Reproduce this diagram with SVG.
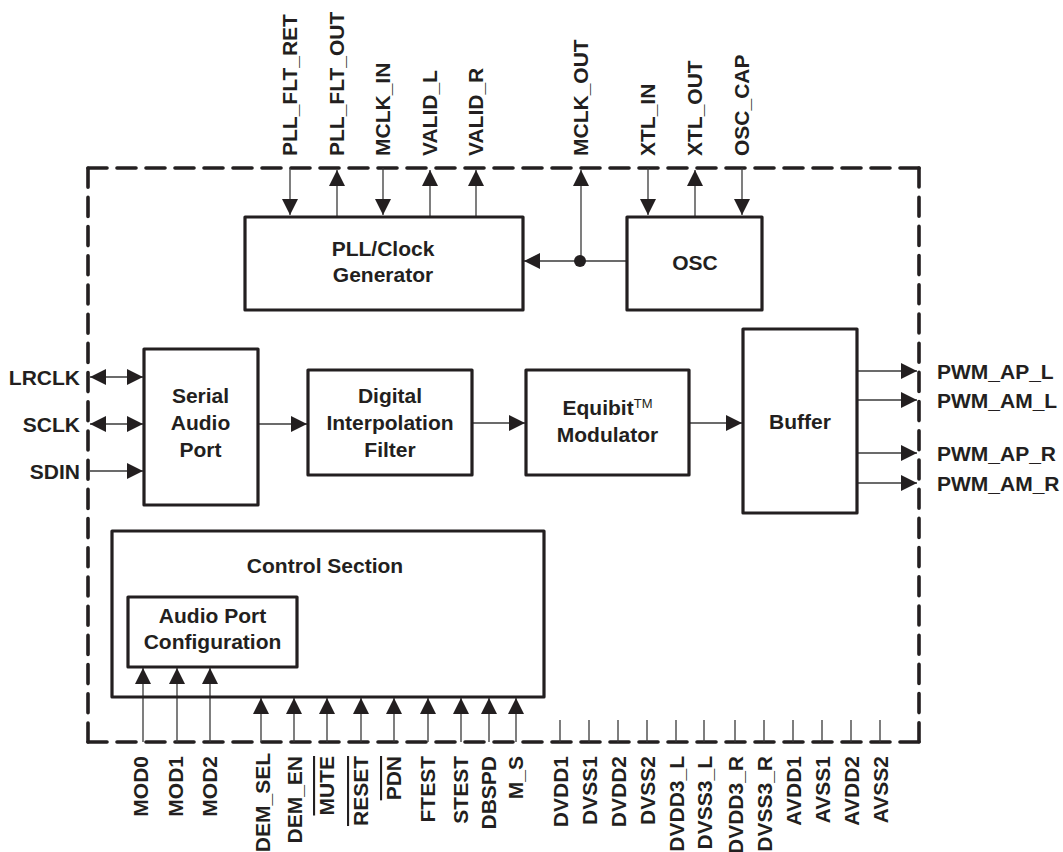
<svg xmlns="http://www.w3.org/2000/svg" width="1063" height="852" viewBox="0 0 1063 852">
<style>
text{font-family:"Liberation Sans",Arial,sans-serif;font-weight:bold;font-size:21px;fill:#231f20}
.box{fill:none;stroke:#231f20;stroke-width:3.2;stroke-linejoin:round}
.bd{fill:none;stroke:#231f20;stroke-width:3.6;stroke-linecap:round;stroke-dasharray:19 10}
.bdv{fill:none;stroke:#231f20;stroke-width:3.6;stroke-linecap:round;stroke-dasharray:19 10.2}
.w{fill:none;stroke:#3a3a3a;stroke-width:1.3}
.a{marker-end:url(#ah)}
.bi{marker-end:url(#ah);marker-start:url(#ahs)}
.m{text-anchor:middle}
.e{text-anchor:end}
.ol{text-decoration:overline}
</style>
<defs>
<marker id="ah" viewBox="0 0 16 16" refX="16" refY="8" markerWidth="16" markerHeight="16" markerUnits="userSpaceOnUse" orient="auto"><path d="M0,0 L16,8 L0,16 z" fill="#231f20"/></marker>
<marker id="ahs" viewBox="0 0 16 16" refX="16" refY="8" markerWidth="16" markerHeight="16" markerUnits="userSpaceOnUse" orient="auto-start-reverse"><path d="M0,0 L16,8 L0,16 z" fill="#231f20"/></marker>
</defs>

<g id="border">
<path class="bd" d="M88,168 H919"/>
<path class="bdv" d="M919,168 V742"/>
<path class="bd" d="M919,742 H88"/>
<path class="bdv" d="M88,742 V168"/>
</g>

<g id="connectors">
<path class="w a" d="M290,168 V215"/>
<path class="w a" d="M337,217 V170"/>
<path class="w a" d="M383,168 V215"/>
<path class="w a" d="M430,217 V170"/>
<path class="w a" d="M476,217 V170"/>
<path class="w a" d="M581,261 V170"/>
<path class="w a" d="M648,168 V215"/>
<path class="w a" d="M695,217 V170"/>
<path class="w a" d="M742,168 V215"/>
<path class="w a" d="M627,261 H524"/>
<circle cx="580" cy="261" r="6" fill="#231f20"/>
<path class="w bi" d="M90,377 H143"/>
<path class="w bi" d="M90,424 H143"/>
<path class="w a" d="M90,471 H143"/>
<path class="w a" d="M258,424 H307"/>
<path class="w a" d="M472,423 H525"/>
<path class="w a" d="M689,423 H742"/>
<path class="w a" d="M857,371 H917"/>
<path class="w a" d="M857,400 H917"/>
<path class="w a" d="M857,453 H917"/>
<path class="w a" d="M857,483 H917"/>
<path class="w a" d="M143,742 V668"/>
<path class="w a" d="M177,742 V668"/>
<path class="w a" d="M210,742 V668"/>
<path class="w a" d="M261,742 V698"/>
<path class="w a" d="M294,742 V698"/>
<path class="w a" d="M327,742 V698"/>
<path class="w a" d="M361,742 V698"/>
<path class="w a" d="M394,742 V698"/>
<path class="w a" d="M428,742 V698"/>
<path class="w a" d="M461,742 V698"/>
<path class="w a" d="M489,742 V698"/>
<path class="w a" d="M516,742 V698"/>
<path class="w" d="M560,720 V742 M589,720 V742 M618,720 V742 M647,720 V742 M676,720 V742 M704,720 V742 M735,720 V742 M764,720 V742 M793,720 V742 M822,720 V742 M851,720 V742 M880,720 V742"/>
</g>

<g id="pll">
<rect class="box" x="245" y="217" width="278" height="93"/>
<text class="m" x="383" y="256">PLL/Clock</text>
<text class="m" x="383" y="282">Generator</text>
</g>
<g id="osc">
<rect class="box" x="627" y="217" width="135" height="93"/>
<text class="m" x="695" y="270">OSC</text>
</g>
<g id="serial">
<rect class="box" x="144" y="349" width="114" height="156"/>
<text class="m" x="200.5" y="403">Serial</text>
<text class="m" x="200.5" y="430">Audio</text>
<text class="m" x="200.5" y="457">Port</text>
</g>
<g id="filter">
<rect class="box" x="308" y="370" width="164" height="105"/>
<text class="m" x="390" y="403">Digital</text>
<text class="m" x="390" y="430">Interpolation</text>
<text class="m" x="390" y="457">Filter</text>
</g>
<g id="modulator">
<rect class="box" x="526" y="370" width="163" height="105"/>
<text class="m" x="607.5" y="415">Equibit<tspan font-size="13" font-weight="normal" dy="-7">TM</tspan></text>
<text class="m" x="607.5" y="442">Modulator</text>
</g>
<g id="buffer">
<rect class="box" x="743" y="329" width="114" height="184"/>
<text class="m" x="800" y="429">Buffer</text>
</g>
<g id="control">
<rect class="box" x="112" y="531" width="432" height="166"/>
<text class="m" x="325" y="573">Control Section</text>
</g>
<g id="apc">
<rect class="box" x="128" y="597" width="169" height="70"/>
<text class="m" x="212.5" y="623">Audio Port</text>
<text class="m" x="212.5" y="649">Configuration</text>
</g>

<g id="labels-top">
<text transform="translate(297,156) rotate(-90)">PLL_FLT_RET</text>
<text transform="translate(344,156) rotate(-90)">PLL_FLT_OUT</text>
<text transform="translate(390,156) rotate(-90)">MCLK_IN</text>
<text transform="translate(437,156) rotate(-90)">VALID_L</text>
<text transform="translate(483,156) rotate(-90)">VALID_R</text>
<text transform="translate(588,156) rotate(-90)">MCLK_OUT</text>
<text transform="translate(655,156) rotate(-90)">XTL_IN</text>
<text transform="translate(702,156) rotate(-90)">XTL_OUT</text>
<text transform="translate(749,156) rotate(-90)">OSC_CAP</text>
</g>
<g id="labels-left">
<text class="e" x="80" y="385">LRCLK</text>
<text class="e" x="80" y="432">SCLK</text>
<text class="e" x="80" y="479">SDIN</text>
</g>
<g id="labels-right">
<text x="937" y="379">PWM_AP_L</text>
<text x="937" y="408">PWM_AM_L</text>
<text x="937" y="461">PWM_AP_R</text>
<text x="937" y="491">PWM_AM_R</text>
</g>
<g id="labels-bottom">
<text class="e" transform="translate(148,756) rotate(-90)">MOD0</text>
<text class="e" transform="translate(183,756) rotate(-90)">MOD1</text>
<text class="e" transform="translate(217,756) rotate(-90)">MOD2</text>
<text class="e" transform="translate(270,753) rotate(-90)" font-size="20.5">DEM_SEL</text>
<text class="e" transform="translate(302,756) rotate(-90)">DEM_EN</text>
<text class="e ol" transform="translate(334,756) rotate(-90)">MUTE</text>
<text class="e ol" transform="translate(368,756) rotate(-90)">RESET</text>
<text class="e ol" transform="translate(401,756) rotate(-90)">PDN</text>
<text class="e" transform="translate(435,756) rotate(-90)">FTEST</text>
<text class="e" transform="translate(468,756) rotate(-90)">STEST</text>
<text class="e" transform="translate(496,756) rotate(-90)">DBSPD</text>
<text class="e" transform="translate(523,756) rotate(-90)">M_S</text>
<text class="e" transform="translate(567.5,756) rotate(-90)">DVDD1</text>
<text class="e" transform="translate(596.5,756) rotate(-90)">DVSS1</text>
<text class="e" transform="translate(625.5,756) rotate(-90)">DVDD2</text>
<text class="e" transform="translate(654.5,756) rotate(-90)">DVSS2</text>
<text class="e" transform="translate(683.5,756) rotate(-90)">DVDD3_L</text>
<text class="e" transform="translate(711.5,756) rotate(-90)">DVSS3_L</text>
<text class="e" transform="translate(742.5,756) rotate(-90)">DVDD3_R</text>
<text class="e" transform="translate(771.5,756) rotate(-90)">DVSS3_R</text>
<text class="e" transform="translate(800.5,756) rotate(-90)">AVDD1</text>
<text class="e" transform="translate(829.5,756) rotate(-90)">AVSS1</text>
<text class="e" transform="translate(858.5,756) rotate(-90)">AVDD2</text>
<text class="e" transform="translate(887.5,756) rotate(-90)">AVSS2</text>
</g>
</svg>
